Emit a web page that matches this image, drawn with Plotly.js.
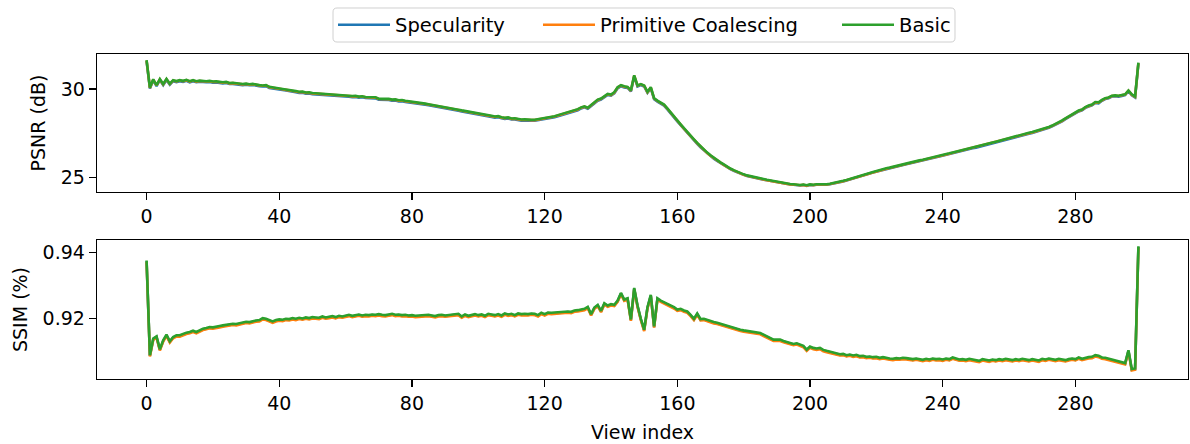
<!DOCTYPE html>
<html>
<head>
<meta charset="utf-8">
<script src="https://cdn.plot.ly/plotly-3.0.1.min.js"></script>
<style>html,body{margin:0;padding:0;background:#fff;}#chart{width:1190px;height:444px;}</style>
</head>
<body>
<div id="chart"></div>
<script>
const seriesNames = ["Specularity", "Primitive Coalescing", "Basic"];
const seriesColors = ["#1f77b4", "#ff7f0e", "#2ca02c"];
const xTicks = [0, 40, 80, 120, 160, 200, 240, 280];

const psnrBasic = [
31.63,30.08,30.55,30.22,30.56,30.28,30.57,30.30,30.50,30.45,
30.50,30.46,30.52,30.44,30.50,30.44,30.47,30.45,30.44,30.46,
30.42,30.43,30.40,30.38,30.40,30.34,30.35,30.32,30.33,30.28,
30.30,30.27,30.29,30.24,30.22,30.20,30.22,30.12,30.08,30.06,
30.01,30.00,29.97,29.95,29.91,29.88,29.84,29.85,29.80,29.81,
29.77,29.76,29.73,29.74,29.71,29.70,29.68,29.69,29.65,29.66,
29.63,29.62,29.60,29.61,29.57,29.59,29.55,29.54,29.52,29.53,
29.45,29.46,29.43,29.44,29.40,29.41,29.36,29.37,29.33,29.31,
29.28,29.26,29.22,29.21,29.17,29.14,29.11,29.08,29.04,29.01,
28.97,28.93,28.90,28.86,28.83,28.79,28.76,28.72,28.69,28.65,
28.60,28.58,28.54,28.52,28.48,28.44,28.46,28.40,28.37,28.39,
28.33,28.34,28.29,28.27,28.28,28.25,28.26,28.26,28.29,28.30,
28.33,28.37,28.41,28.46,28.52,28.58,28.62,28.67,28.72,28.80,
28.86,28.96,29.02,28.94,29.10,29.22,29.40,29.46,29.58,29.72,
29.68,29.82,30.10,30.22,30.15,30.12,29.92,30.77,30.20,30.28,
30.20,29.84,30.10,29.48,29.34,29.22,29.12,28.90,28.66,28.45,
28.22,28.00,27.78,27.55,27.35,27.15,26.95,26.75,26.58,26.40,
26.25,26.10,25.97,25.85,25.73,25.60,25.50,25.41,25.32,25.24,
25.17,25.11,25.06,25.01,24.97,24.94,24.90,24.86,24.82,24.78,
24.74,24.70,24.67,24.65,24.62,24.61,24.58,24.57,24.59,24.55,
24.60,24.58,24.61,24.60,24.62,24.61,24.64,24.67,24.71,24.75,
24.80,24.85,24.90,24.95,25.00,25.06,25.12,25.18,25.24,25.30,
25.36,25.42,25.46,25.51,25.55,25.60,25.64,25.69,25.73,25.78,
25.82,25.87,25.91,25.96,26.00,26.04,26.09,26.14,26.18,26.22,
26.27,26.32,26.36,26.41,26.46,26.51,26.55,26.60,26.64,26.68,
26.72,26.77,26.82,26.87,26.92,26.97,27.02,27.07,27.12,27.18,
27.25,27.31,27.36,27.40,27.44,27.48,27.52,27.56,27.61,27.66,
27.72,27.78,27.85,27.93,28.02,28.12,28.22,28.34,28.46,28.56,
28.68,28.78,28.84,28.98,29.06,29.12,29.26,29.24,29.38,29.48,
29.52,29.62,29.64,29.62,29.66,29.70,29.92,29.70,29.58,31.49];

const psnrSpecularity = [
31.58,30.02,30.49,30.16,30.50,30.22,30.51,30.24,30.44,30.39,
30.44,30.40,30.46,30.38,30.44,30.38,30.41,30.39,30.38,30.40,
30.36,30.37,30.34,30.32,30.34,30.28,30.29,30.26,30.27,30.22,
30.24,30.21,30.23,30.18,30.16,30.14,30.16,30.06,30.02,30.00,
29.95,29.94,29.91,29.89,29.85,29.82,29.78,29.79,29.74,29.75,
29.71,29.70,29.67,29.68,29.65,29.64,29.62,29.63,29.59,29.60,
29.57,29.56,29.54,29.55,29.51,29.53,29.49,29.48,29.46,29.47,
29.39,29.40,29.37,29.38,29.34,29.35,29.30,29.31,29.27,29.25,
29.22,29.20,29.16,29.15,29.11,29.08,29.05,29.02,28.98,28.95,
28.91,28.87,28.84,28.80,28.77,28.73,28.70,28.66,28.63,28.59,
28.54,28.52,28.48,28.46,28.42,28.38,28.40,28.34,28.31,28.33,
28.27,28.28,28.23,28.21,28.22,28.19,28.20,28.20,28.23,28.24,
28.27,28.31,28.35,28.40,28.46,28.52,28.56,28.61,28.66,28.74,
28.80,28.90,28.96,28.88,29.04,29.16,29.34,29.40,29.52,29.66,
29.62,29.76,30.04,30.16,30.09,30.06,29.86,30.71,30.14,30.22,
30.14,29.78,30.04,29.42,29.28,29.16,29.06,28.84,28.60,28.39,
28.17,27.95,27.73,27.50,27.30,27.10,26.90,26.70,26.53,26.35,
26.21,26.06,25.93,25.81,25.69,25.56,25.46,25.37,25.28,25.20,
25.14,25.08,25.03,24.98,24.94,24.91,24.87,24.83,24.79,24.75,
24.71,24.67,24.64,24.62,24.59,24.58,24.55,24.54,24.56,24.52,
24.57,24.55,24.58,24.57,24.59,24.58,24.61,24.64,24.68,24.72,
24.77,24.82,24.87,24.92,24.97,25.03,25.09,25.15,25.21,25.27,
25.32,25.38,25.42,25.47,25.51,25.56,25.60,25.65,25.69,25.74,
25.78,25.83,25.87,25.92,25.96,26.00,26.05,26.10,26.14,26.18,
26.23,26.28,26.32,26.37,26.42,26.47,26.51,26.56,26.60,26.64,
26.68,26.73,26.78,26.83,26.88,26.93,26.98,27.03,27.08,27.14,
27.20,27.26,27.31,27.35,27.39,27.43,27.47,27.51,27.56,27.61,
27.67,27.73,27.80,27.88,27.97,28.07,28.17,28.29,28.41,28.51,
28.63,28.73,28.79,28.93,29.01,29.07,29.21,29.19,29.33,29.43,
29.47,29.57,29.59,29.57,29.61,29.65,29.87,29.65,29.52,31.44];

const psnrCoalescing = [
31.61,30.06,30.53,30.20,30.54,30.26,30.55,30.28,30.48,30.43,
30.48,30.44,30.50,30.42,30.48,30.42,30.45,30.43,30.42,30.44,
30.40,30.41,30.38,30.36,30.38,30.32,30.33,30.30,30.31,30.26,
30.28,30.25,30.27,30.22,30.20,30.18,30.20,30.10,30.06,30.04,
29.99,29.98,29.95,29.93,29.89,29.86,29.82,29.83,29.78,29.79,
29.75,29.74,29.71,29.72,29.69,29.68,29.66,29.67,29.63,29.64,
29.61,29.60,29.58,29.59,29.55,29.57,29.53,29.52,29.50,29.51,
29.43,29.44,29.41,29.42,29.38,29.39,29.34,29.35,29.31,29.29,
29.26,29.24,29.20,29.19,29.15,29.12,29.09,29.06,29.02,28.99,
28.95,28.91,28.88,28.84,28.81,28.77,28.74,28.70,28.67,28.63,
28.58,28.56,28.52,28.50,28.46,28.42,28.44,28.38,28.35,28.37,
28.31,28.32,28.27,28.25,28.26,28.23,28.24,28.24,28.27,28.28,
28.31,28.35,28.39,28.44,28.50,28.56,28.60,28.65,28.70,28.78,
28.84,28.94,29.00,28.92,29.08,29.20,29.38,29.44,29.56,29.70,
29.66,29.80,30.08,30.20,30.13,30.10,29.90,30.75,30.18,30.26,
30.18,29.82,30.08,29.46,29.32,29.20,29.10,28.88,28.64,28.43,
28.20,27.98,27.76,27.53,27.33,27.13,26.93,26.73,26.56,26.38,
26.23,26.08,25.95,25.83,25.71,25.58,25.48,25.39,25.30,25.22,
25.15,25.09,25.04,24.99,24.95,24.92,24.88,24.84,24.80,24.76,
24.72,24.68,24.65,24.63,24.60,24.59,24.56,24.55,24.57,24.53,
24.58,24.56,24.59,24.58,24.60,24.59,24.62,24.65,24.69,24.73,
24.78,24.83,24.88,24.93,24.98,25.04,25.10,25.16,25.22,25.28,
25.34,25.40,25.44,25.49,25.53,25.58,25.62,25.67,25.71,25.76,
25.80,25.85,25.89,25.94,25.98,26.02,26.07,26.12,26.16,26.20,
26.25,26.30,26.34,26.39,26.44,26.49,26.53,26.58,26.62,26.66,
26.70,26.75,26.80,26.85,26.90,26.95,27.00,27.05,27.10,27.16,
27.23,27.29,27.34,27.38,27.42,27.46,27.50,27.54,27.59,27.64,
27.70,27.76,27.83,27.91,28.00,28.10,28.20,28.32,28.44,28.54,
28.66,28.76,28.82,28.96,29.04,29.10,29.24,29.22,29.36,29.46,
29.50,29.60,29.62,29.60,29.64,29.68,29.90,29.68,29.56,31.47];

const ssimBasic = [
0.9376,0.9090,0.9140,0.9147,0.9108,0.9135,0.9152,0.9132,0.9145,0.9150,
0.9150,0.9155,0.9158,0.9160,0.9164,0.9160,0.9166,0.9170,0.9172,0.9175,
0.9174,0.9177,0.9178,0.9180,0.9182,0.9183,0.9185,0.9184,0.9187,0.9189,
0.9191,0.9190,0.9193,0.9195,0.9196,0.9202,0.9200,0.9195,0.9192,0.9196,
0.9198,0.9197,0.9200,0.9199,0.9202,0.9200,0.9203,0.9201,0.9204,0.9202,
0.9205,0.9204,0.9203,0.9207,0.9204,0.9206,0.9208,0.9205,0.9209,0.9207,
0.9210,0.9212,0.9209,0.9211,0.9213,0.9210,0.9212,0.9211,0.9213,0.9212,
0.9214,0.9212,0.9211,0.9213,0.9215,0.9212,0.9213,0.9211,0.9212,0.9210,
0.9211,0.9209,0.9210,0.9212,0.9211,0.9212,0.9210,0.9208,0.9211,0.9212,
0.9210,0.9211,0.9212,0.9213,0.9215,0.9207,0.9213,0.9209,0.9212,0.9214,
0.9211,0.9213,0.9209,0.9215,0.9213,0.9211,0.9214,0.9210,0.9216,0.9213,
0.9215,0.9211,0.9216,0.9214,0.9215,0.9214,0.9216,0.9215,0.9211,0.9218,
0.9214,0.9219,0.9218,0.9219,0.9219,0.9220,0.9221,0.9222,0.9221,0.9225,
0.9226,0.9228,0.9230,0.9236,0.9214,0.9234,0.9242,0.9224,0.9247,0.9240,
0.9244,0.9242,0.9255,0.9278,0.9258,0.9262,0.9198,0.9293,0.9240,0.9200,
0.9167,0.9235,0.9272,0.9177,0.9262,0.9255,0.9250,0.9247,0.9240,0.9235,
0.9228,0.9230,0.9225,0.9222,0.9212,0.9200,0.9216,0.9199,0.9200,0.9196,
0.9193,0.9190,0.9188,0.9185,0.9180,0.9177,0.9175,0.9172,0.9170,0.9167,
0.9165,0.9163,0.9161,0.9160,0.9158,0.9157,0.9152,0.9147,0.9140,0.9137,
0.9137,0.9137,0.9133,0.9130,0.9127,0.9124,0.9126,0.9122,0.9118,0.9107,
0.9116,0.9112,0.9110,0.9112,0.9106,0.9103,0.9101,0.9098,0.9096,0.9093,
0.9094,0.9090,0.9092,0.9089,0.9091,0.9087,0.9088,0.9085,0.9086,0.9084,
0.9085,0.9082,0.9084,0.9081,0.9080,0.9079,0.9081,0.9080,0.9082,0.9081,
0.9079,0.9078,0.9080,0.9077,0.9076,0.9079,0.9077,0.9080,0.9078,0.9079,
0.9077,0.9080,0.9078,0.9083,0.9079,0.9077,0.9078,0.9076,0.9079,0.9077,
0.9075,0.9073,0.9078,0.9076,0.9074,0.9077,0.9075,0.9078,0.9076,0.9079,
0.9077,0.9075,0.9078,0.9076,0.9079,0.9077,0.9075,0.9078,0.9076,0.9074,
0.9079,0.9077,0.9080,0.9078,0.9076,0.9079,0.9077,0.9075,0.9078,0.9080,
0.9078,0.9083,0.9079,0.9082,0.9084,0.9085,0.9090,0.9088,0.9083,0.9082,
0.9079,0.9078,0.9073,0.9070,0.9068,0.9066,0.9105,0.9048,0.9050,0.9419];

const ssimSpecularity = [
0.9374,0.9088,0.9138,0.9145,0.9106,0.9133,0.9150,0.9130,0.9143,0.9148,
0.9148,0.9153,0.9156,0.9158,0.9162,0.9158,0.9164,0.9168,0.9170,0.9173,
0.9172,0.9175,0.9176,0.9178,0.9180,0.9181,0.9183,0.9182,0.9185,0.9187,
0.9189,0.9188,0.9191,0.9193,0.9194,0.9200,0.9198,0.9193,0.9190,0.9194,
0.9196,0.9195,0.9198,0.9197,0.9200,0.9198,0.9201,0.9199,0.9202,0.9200,
0.9203,0.9202,0.9201,0.9205,0.9202,0.9204,0.9206,0.9203,0.9207,0.9205,
0.9208,0.9210,0.9207,0.9209,0.9211,0.9208,0.9210,0.9209,0.9211,0.9210,
0.9212,0.9210,0.9209,0.9211,0.9213,0.9210,0.9211,0.9209,0.9210,0.9208,
0.9209,0.9207,0.9208,0.9210,0.9209,0.9210,0.9208,0.9206,0.9209,0.9210,
0.9208,0.9209,0.9210,0.9211,0.9213,0.9205,0.9211,0.9207,0.9210,0.9212,
0.9209,0.9211,0.9207,0.9213,0.9211,0.9209,0.9212,0.9208,0.9214,0.9211,
0.9213,0.9209,0.9214,0.9212,0.9213,0.9212,0.9214,0.9213,0.9209,0.9216,
0.9212,0.9217,0.9216,0.9217,0.9217,0.9218,0.9219,0.9220,0.9219,0.9223,
0.9224,0.9226,0.9228,0.9234,0.9212,0.9232,0.9240,0.9222,0.9245,0.9238,
0.9242,0.9240,0.9253,0.9276,0.9256,0.9260,0.9196,0.9291,0.9238,0.9198,
0.9165,0.9233,0.9270,0.9175,0.9260,0.9253,0.9248,0.9245,0.9238,0.9233,
0.9226,0.9228,0.9223,0.9220,0.9210,0.9198,0.9214,0.9197,0.9198,0.9194,
0.9191,0.9188,0.9186,0.9183,0.9178,0.9175,0.9173,0.9170,0.9168,0.9165,
0.9163,0.9161,0.9159,0.9158,0.9156,0.9155,0.9150,0.9145,0.9138,0.9135,
0.9135,0.9135,0.9131,0.9128,0.9125,0.9122,0.9124,0.9120,0.9116,0.9105,
0.9114,0.9110,0.9108,0.9110,0.9104,0.9101,0.9099,0.9096,0.9094,0.9091,
0.9092,0.9088,0.9090,0.9087,0.9089,0.9085,0.9086,0.9083,0.9084,0.9082,
0.9083,0.9080,0.9082,0.9079,0.9078,0.9077,0.9079,0.9078,0.9080,0.9079,
0.9077,0.9076,0.9078,0.9075,0.9074,0.9077,0.9075,0.9078,0.9076,0.9077,
0.9075,0.9078,0.9076,0.9081,0.9077,0.9075,0.9076,0.9074,0.9077,0.9075,
0.9073,0.9071,0.9076,0.9074,0.9072,0.9075,0.9073,0.9076,0.9074,0.9077,
0.9075,0.9073,0.9076,0.9074,0.9077,0.9075,0.9073,0.9076,0.9074,0.9072,
0.9077,0.9075,0.9078,0.9076,0.9074,0.9077,0.9075,0.9073,0.9076,0.9078,
0.9076,0.9081,0.9077,0.9080,0.9082,0.9083,0.9088,0.9086,0.9081,0.9080,
0.9077,0.9076,0.9071,0.9068,0.9066,0.9064,0.9103,0.9046,0.9048,0.9417];

const ssimCoalescing = [
0.9372,0.9086,0.9136,0.9143,0.9104,0.9131,0.9148,0.9128,0.9141,0.9146,
0.9146,0.9151,0.9154,0.9156,0.9160,0.9156,0.9162,0.9166,0.9168,0.9171,
0.9170,0.9173,0.9174,0.9176,0.9178,0.9179,0.9181,0.9180,0.9183,0.9185,
0.9187,0.9186,0.9189,0.9191,0.9192,0.9198,0.9196,0.9191,0.9188,0.9192,
0.9194,0.9193,0.9196,0.9195,0.9198,0.9196,0.9199,0.9197,0.9200,0.9198,
0.9201,0.9200,0.9199,0.9203,0.9200,0.9202,0.9204,0.9201,0.9205,0.9203,
0.9206,0.9208,0.9205,0.9207,0.9209,0.9206,0.9208,0.9207,0.9209,0.9208,
0.9210,0.9208,0.9207,0.9209,0.9211,0.9208,0.9209,0.9207,0.9208,0.9206,
0.9207,0.9205,0.9206,0.9208,0.9207,0.9208,0.9206,0.9204,0.9207,0.9208,
0.9206,0.9207,0.9208,0.9209,0.9211,0.9203,0.9209,0.9205,0.9208,0.9210,
0.9207,0.9209,0.9205,0.9211,0.9209,0.9207,0.9210,0.9206,0.9212,0.9209,
0.9211,0.9207,0.9212,0.9210,0.9211,0.9210,0.9212,0.9211,0.9207,0.9214,
0.9210,0.9215,0.9214,0.9215,0.9215,0.9216,0.9217,0.9218,0.9217,0.9221,
0.9222,0.9224,0.9226,0.9232,0.9210,0.9230,0.9238,0.9220,0.9243,0.9236,
0.9240,0.9238,0.9251,0.9274,0.9254,0.9258,0.9194,0.9289,0.9236,0.9196,
0.9163,0.9231,0.9268,0.9173,0.9258,0.9251,0.9246,0.9243,0.9236,0.9231,
0.9224,0.9226,0.9221,0.9218,0.9208,0.9196,0.9212,0.9195,0.9196,0.9192,
0.9189,0.9186,0.9184,0.9181,0.9176,0.9173,0.9171,0.9168,0.9166,0.9163,
0.9161,0.9159,0.9157,0.9156,0.9154,0.9153,0.9148,0.9143,0.9136,0.9133,
0.9133,0.9133,0.9129,0.9126,0.9123,0.9120,0.9122,0.9118,0.9114,0.9103,
0.9112,0.9108,0.9106,0.9108,0.9102,0.9099,0.9097,0.9094,0.9092,0.9089,
0.9090,0.9086,0.9088,0.9085,0.9087,0.9083,0.9084,0.9081,0.9082,0.9080,
0.9081,0.9078,0.9080,0.9077,0.9076,0.9075,0.9077,0.9076,0.9078,0.9077,
0.9075,0.9074,0.9076,0.9073,0.9072,0.9075,0.9073,0.9076,0.9074,0.9075,
0.9073,0.9076,0.9074,0.9079,0.9075,0.9073,0.9074,0.9072,0.9075,0.9073,
0.9071,0.9069,0.9074,0.9072,0.9070,0.9073,0.9071,0.9074,0.9072,0.9075,
0.9073,0.9071,0.9074,0.9072,0.9075,0.9073,0.9071,0.9074,0.9072,0.9070,
0.9075,0.9073,0.9076,0.9074,0.9072,0.9075,0.9073,0.9071,0.9074,0.9076,
0.9074,0.9079,0.9075,0.9078,0.9080,0.9081,0.9086,0.9084,0.9079,0.9078,
0.9075,0.9074,0.9069,0.9066,0.9064,0.9062,0.9101,0.9044,0.9046,0.9415];

const viewIndex = psnrBasic.map((_, i) => i);

const psnrSeries = [psnrSpecularity, psnrCoalescing, psnrBasic];
const ssimSeries = [ssimSpecularity, ssimCoalescing, ssimBasic];
const legendIds = ["legend", "legend2", "legend3"];

const FONT = {family: "DejaVu Sans, sans-serif", size: 19, color: "#000"};
const LEGEND_FONT = {family: "DejaVu Sans, sans-serif", size: 19.5, color: "#000"};
const traces = [];
for (let k = 0; k < 3; k++) {
  traces.push({x: viewIndex, y: psnrSeries[k], type: "scatter", mode: "lines", name: seriesNames[k],
    line: {color: seriesColors[k], width: 2.6}, xaxis: "x", yaxis: "y", showlegend: true,
    legend: legendIds[k], hoverinfo: "skip"});
}
for (let k = 0; k < 3; k++) {
  traces.push({x: viewIndex, y: ssimSeries[k], type: "scatter", mode: "lines", name: seriesNames[k],
    line: {color: seriesColors[k], width: 2.6}, xaxis: "x2", yaxis: "y2", showlegend: false, hoverinfo: "skip"});
}

const axisCommon = {showgrid: false, zeroline: false, showline: true, linecolor: "#000", linewidth: 1.3,
  mirror: true, ticks: "outside", ticklen: 7, tickwidth: 1.3, tickcolor: "#000", tickfont: FONT};

function legendAt(xPaper) {
  return {orientation: "h", x: xPaper, xanchor: "left", y: 1.0892, yanchor: "middle",
    borderwidth: 0, bgcolor: "rgba(0,0,0,0)", font: LEGEND_FONT, itemwidth: 52};
}

// legend frame (rounded rectangle, paper coordinates)
const fx0 = 0.21632, fx1 = 0.78643, fyT = 1.14154, fyB = 1.03692, rx = 0.00367, ry = 0.0123;
const framePath = `M${fx0 + rx},${fyT} L${fx1 - rx},${fyT} Q${fx1},${fyT} ${fx1},${fyT - ry} ` +
  `L${fx1},${fyB + ry} Q${fx1},${fyB} ${fx1 - rx},${fyB} L${fx0 + rx},${fyB} Q${fx0},${fyB} ${fx0},${fyB + ry} ` +
  `L${fx0},${fyT - ry} Q${fx0},${fyT} ${fx0 + rx},${fyT} Z`;

const layout = {
  width: 1190, height: 444,
  margin: {l: 97, r: 2, t: 54, b: 65},
  paper_bgcolor: "#fff", plot_bgcolor: "#fff",
  font: FONT,
  showlegend: true,
  legend: legendAt(0.21632),
  legend2: legendAt(0.40421),
  legend3: legendAt(0.67828),
  shapes: [{type: "path", xref: "paper", yref: "paper", path: framePath,
    line: {color: "#d0d0d0", width: 1}, fillcolor: "rgba(255,255,255,0.8)", layer: "below"}],
  xaxis: Object.assign({}, axisCommon, {domain: [0, 1], anchor: "y", range: [-14.95, 313.95],
    tickmode: "array", tickvals: xTicks, ticktext: xTicks.map(String)}),
  yaxis: Object.assign({}, axisCommon, {domain: [0.5754, 1], anchor: "x", range: [24.17, 31.98],
    tickmode: "array", tickvals: [25, 30], ticktext: ["25", "30"],
    title: {text: "PSNR (dB)", font: FONT, standoff: 10}}),
  xaxis2: Object.assign({}, axisCommon, {domain: [0, 1], anchor: "y2", range: [-14.95, 313.95],
    tickmode: "array", tickvals: xTicks, ticktext: xTicks.map(String),
    title: {text: "View index", font: FONT, standoff: 12}}),
  yaxis2: Object.assign({}, axisCommon, {domain: [0, 0.4277], anchor: "x2", range: [0.9018, 0.9438],
    tickmode: "array", tickvals: [0.92, 0.94], ticktext: ["0.92", "0.94"],
    title: {text: "SSIM (%)", font: FONT, standoff: 10}})
};

Plotly.newPlot("chart", traces, layout, {staticPlot: true, displayModeBar: false});
</script>
</body>
</html>
